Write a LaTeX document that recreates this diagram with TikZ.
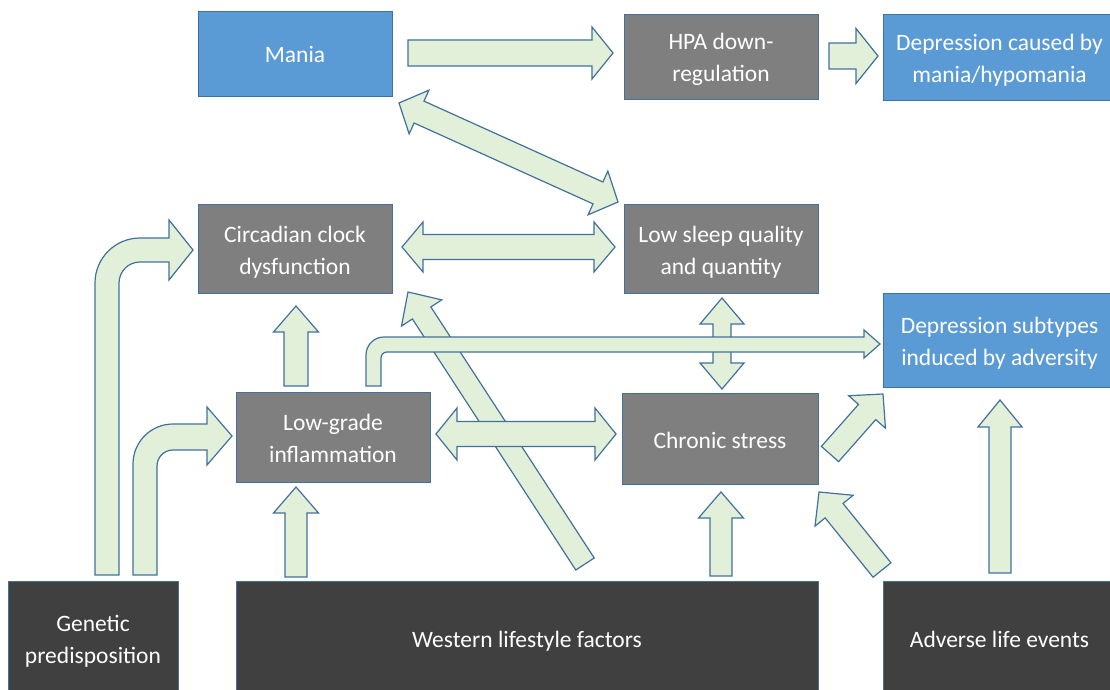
\documentclass[tikz,border=0pt]{standalone}
\usepackage{fontspec}
\setmainfont{Carlito}
\usetikzlibrary{calc}
\definecolor{bluebox}{HTML}{5B9BD5}
\definecolor{graybox}{HTML}{7F7F7F}
\definecolor{darkbox}{HTML}{404040}
\definecolor{arrfill}{HTML}{E2F0D9}
\definecolor{arrline}{HTML}{41719C}
\newcommand\ts{\rule[-4pt]{0pt}{27pt}}
\tikzset{
  box/.style={draw=arrline, line width=0.8pt, text=white, align=center,
    font=\fontsize{23.5}{32}\selectfont, inner sep=0pt},
  bluebx/.style={box, fill=bluebox},
  graybx/.style={box, fill=graybox},
  darkbx/.style={box, fill=darkbox},
  barrow/.style={fill=arrfill, draw=arrline, line width=1.2pt, line join=miter}
}
% straight block arrow: start, tip, shaft half width, head half width, head length
\newcommand\sarrow[5]{%
  \coordinate (sab) at ($(#2)!#5!(#1)$);
  \draw[barrow] ($(#1)!#3!90:(#2)$) -- ($(sab)!#3!90:(#2)$) -- ($(sab)!#4!90:(#2)$)
    -- (#2) -- ($(sab)!#4!-90:(#2)$) -- ($(sab)!#3!-90:(#2)$) -- ($(#1)!#3!-90:(#2)$) -- cycle;}
% double block arrow
\newcommand\darrow[5]{%
  \coordinate (daa) at ($(#1)!#5!(#2)$);
  \coordinate (dab) at ($(#2)!#5!(#1)$);
  \draw[barrow] (#1) -- ($(daa)!#4!90:(#2)$) -- ($(daa)!#3!90:(#2)$)
    -- ($(dab)!#3!-90:(#1)$) -- ($(dab)!#4!-90:(#1)$) -- (#2)
    -- ($(dab)!#4!90:(#1)$) -- ($(dab)!#3!90:(#1)$)
    -- ($(daa)!#3!-90:(#2)$) -- ($(daa)!#4!-90:(#2)$) -- cycle;}
\begin{document}
\begin{tikzpicture}[x=1pt,y=1pt]
\useasboundingbox (0,0) rectangle (1110,-690);
\fill[white] (0,0) rectangle (1110,-690);

% boxes
\node[bluebx, minimum width=194pt, minimum height=85pt] (mania) at (295,-53.5) {\ts Mania};
\node[graybx, minimum width=194pt, minimum height=85pt] (hpa) at (721,-56.5) {\ts HPA down-\\\ts regulation};
\node[bluebx, minimum width=233pt, minimum height=86pt] (depc) at (999.5,-57) {\ts Depression caused by\\\ts mania/hypomania};
\node[graybx, minimum width=194pt, minimum height=89pt] (circ) at (295,-248.5) {\ts Circadian clock\\\ts dysfunction};
\node[graybx, minimum width=194pt, minimum height=89pt] (sleep) at (721,-248.5) {\ts Low sleep quality\\\ts and quantity};
\node[bluebx, minimum width=233pt, minimum height=94pt] (deps) at (999.5,-340) {\ts Depression subtypes\\\ts induced by adversity};
\node[graybx, minimum width=194pt, minimum height=90pt] (infl) at (333,-437) {\ts Low-grade\\\ts inflammation};
\node[graybx, minimum width=196pt, minimum height=91pt] (stress) at (720,-438.5) {\ts Chronic stress};
\node[darkbx, minimum width=170pt, minimum height=114pt] (gen) at (93,-638) {\ts Genetic\\\ts predisposition};
\node[darkbx, minimum width=582pt, minimum height=114pt] (west) at (527,-638) {\ts Western lifestyle factors};
\node[darkbx, minimum width=233pt, minimum height=114pt] (adv) at (999.5,-638) {\ts Adverse life events};

% arrow end points
\coordinate (wcd1) at (585,-564); \coordinate (wcd2) at (408,-292);
\coordinate (ls1) at (722,-298); \coordinate (ls2) at (722,-389);
\coordinate (mh1) at (408,-53); \coordinate (mh2) at (613,-53);
\coordinate (hd1) at (829,-56); \coordinate (hd2) at (878,-56);
\coordinate (ml1) at (399,-103); \coordinate (ml2) at (618,-202);
\coordinate (cl1) at (402,-247); \coordinate (cl2) at (615,-247);
\coordinate (ic1) at (436,-434); \coordinate (ic2) at (616,-434);
\coordinate (lc1) at (296,-386); \coordinate (lc2) at (296,-306);
\coordinate (wl1) at (296,-577); \coordinate (wl2) at (296,-487);
\coordinate (wc1) at (721,-576); \coordinate (wc2) at (721,-492);
\coordinate (as1) at (1000,-573); \coordinate (as2) at (1000,-400);
\coordinate (cs1) at (830,-454); \coordinate (cs2) at (883,-394);
\coordinate (ac1) at (882,-570); \coordinate (ac2) at (819,-492);

% arrows drawn underneath
\sarrow{wcd1}{wcd2}{11pt}{24pt}{25pt}
\darrow{ls1}{ls2}{9pt}{22pt}{26pt}

% elbow: low-grade inflammation -> depression subtypes
\draw[barrow] (366,-386) -- (366,-355) arc[start angle=180, end angle=90, radius=18]
  -- (864,-337) -- (864,-330) -- (880,-344) -- (864,-358) -- (864,-352)
  -- (387,-352) arc[start angle=90, end angle=180, radius=6] -- (381,-386) -- cycle;

\darrow{ic1}{ic2}{12.5pt}{26pt}{21pt}

% other arrows
\sarrow{mh1}{mh2}{13pt}{26pt}{21pt}
\sarrow{hd1}{hd2}{13pt}{27.5pt}{22pt}
\darrow{ml1}{ml2}{12pt}{24pt}{22pt}
\darrow{cl1}{cl2}{12.5pt}{25pt}{21pt}
\sarrow{lc1}{lc2}{12pt}{22.5pt}{26pt}
\sarrow{wl1}{wl2}{11pt}{22.5pt}{26pt}
\sarrow{wc1}{wc2}{11pt}{22.5pt}{26pt}
\sarrow{as1}{as2}{11pt}{22pt}{27pt}
\sarrow{cs1}{cs2}{11.5pt}{24.5pt}{24pt}
\sarrow{ac1}{ac2}{11.5pt}{24.5pt}{24pt}

% elbow: genetic -> circadian
\draw[barrow] (95,-575) -- (95,-283) arc[start angle=180, end angle=90, radius=45]
  -- (169,-238) -- (169,-220) -- (193,-250) -- (169,-280) -- (169,-262)
  -- (140,-262) arc[start angle=90, end angle=180, radius=21] -- (119,-575) -- cycle;
% elbow: genetic -> low-grade inflammation
\draw[barrow] (133,-575) -- (133,-464) arc[start angle=180, end angle=90, radius=40]
  -- (207,-424) -- (207,-407) -- (232,-436) -- (207,-465) -- (207,-450)
  -- (173,-450) arc[start angle=90, end angle=180, radius=16] -- (157,-575) -- cycle;
\end{tikzpicture}
\end{document}
